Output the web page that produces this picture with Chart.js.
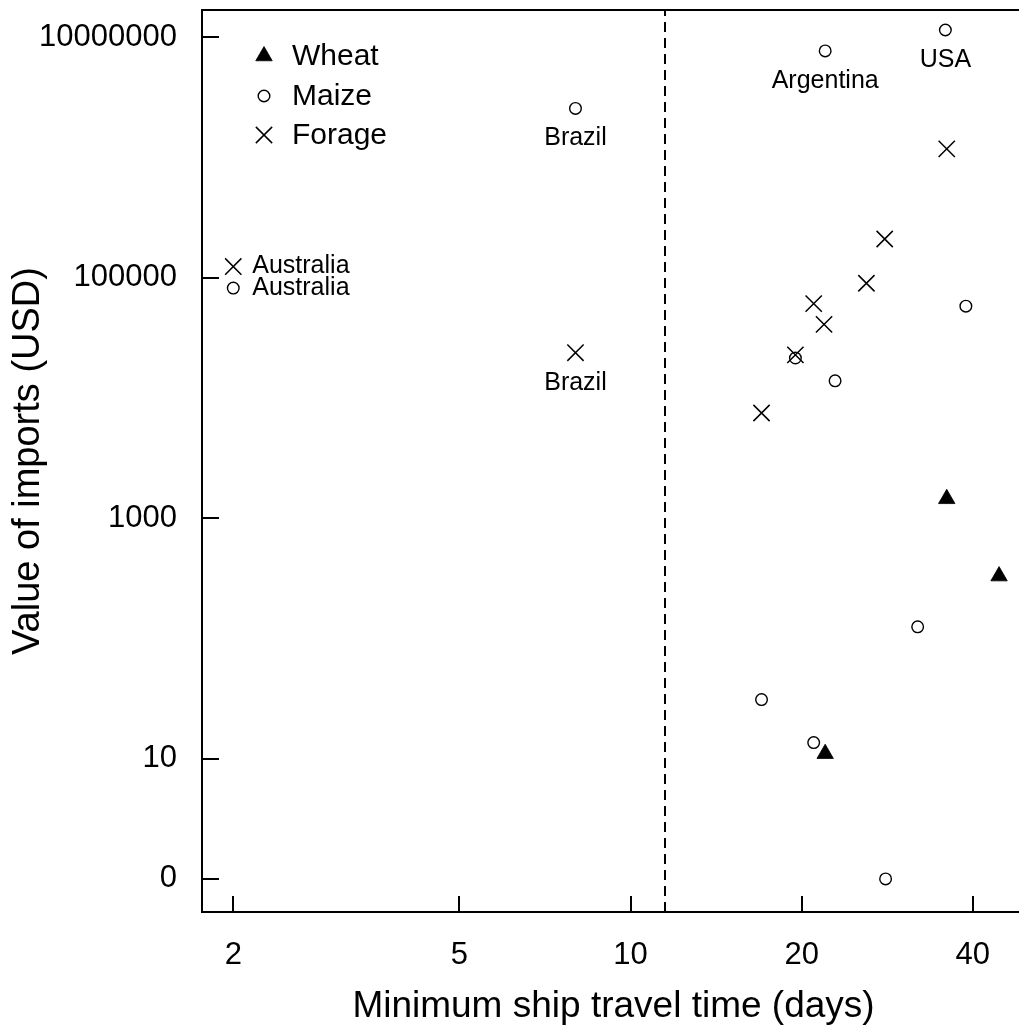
<!DOCTYPE html>
<html lang="en">
<head>
    <meta charset="UTF-8">
    <title>Value of imports vs ship travel time</title>
    <script src="https://cdn.jsdelivr.net/npm/chart.js@4"></script>
    <style>
        html, body { margin: 0; padding: 0; background: #fff; overflow: hidden; }
    </style>
</head>
<body>
    <canvas id="myChart" width="1031" height="1029"></canvas>
    <script>
        // minimum ship travel time (days) and value of imports (USD), one pair of arrays per crop
        const wheatDays = [36.0, 44.5, 22.0];
        const wheatValues = [1450, 330, 11];

        const maizeDays = [35.8, 22.0, 8.0, 2.0, 38.9, 19.5, 22.9, 32.0, 17.0, 21.0, 28.1];
        const maizeValues = [11500000, 7700000, 2560000, 82000, 58000, 21500, 13900, 125, 31, 13.6, 0];
        const maizeCountries = ['USA', 'Argentina', 'Brazil', 'Australia', '', '', '', '', '', '', ''];

        const forageDays = [36.0, 28.0, 26.0, 21.0, 21.9, 19.5, 17.0, 8.0, 2.0];
        const forageValues = [1180000, 210000, 90000, 61000, 41000, 22800, 7500, 23800, 124000];
        const forageCountries = ['', '', '', '', '', '', '', 'Brazil', 'Australia'];

        const xTicks = [2, 5, 10, 20, 40];
        const yTicks = [0, 10, 1000, 100000, 10000000];
        const cutoffDays = 11.5;

        const FONT = "Arial, 'Liberation Sans', sans-serif";
        Chart.defaults.font.family = FONT;
        Chart.defaults.color = '#000';

        // the y axis is logarithmic, a zero value sits where 1 would be
        const plotY = v => (v === 0 ? 1 : v);
        const toPoints = (days, values) => days.map((d, i) => ({ x: d, y: plotY(values[i]) }));

        const labelRight = new Set(['Australia']);

        const framePlugin = {
            id: 'frame',
            afterDraw(chart) {
                const { ctx, chartArea: a, scales: { x, y } } = chart;
                ctx.save();
                ctx.strokeStyle = '#000';
                ctx.lineWidth = 2;
                ctx.strokeRect(a.left, a.top, a.right - a.left, a.bottom - a.top);

                // tick marks point into the plot
                ctx.beginPath();
                xTicks.forEach(t => {
                    const px = Math.round(x.getPixelForValue(t));
                    ctx.moveTo(px, a.bottom);
                    ctx.lineTo(px, a.bottom - 16);
                });
                yTicks.forEach(t => {
                    const py = Math.round(y.getPixelForValue(plotY(t)));
                    ctx.moveTo(a.left, py);
                    ctx.lineTo(a.left + 17, py);
                });
                ctx.stroke();

                // dashed cut-off line
                const cx = Math.round(x.getPixelForValue(cutoffDays));
                ctx.setLineDash([10, 6]);
                ctx.beginPath();
                ctx.moveTo(cx, a.bottom);
                ctx.lineTo(cx, a.top);
                ctx.stroke();
                ctx.setLineDash([]);

                // country names next to their points
                ctx.fillStyle = '#000';
                ctx.font = '25px ' + FONT;
                ctx.textBaseline = 'middle';
                chart.data.datasets.forEach((ds, i) => {
                    if (!ds.countries) return;
                    const meta = chart.getDatasetMeta(i);
                    ds.countries.forEach((name, j) => {
                        if (!name) return;
                        const el = meta.data[j];
                        if (labelRight.has(name)) {
                            ctx.textAlign = 'left';
                            ctx.fillText(name, el.x + 19, el.y);
                        } else {
                            ctx.textAlign = 'center';
                            ctx.fillText(name, el.x, el.y + 30);
                        }
                    });
                });

                // legend, top left, no box
                const rows = [57, 97, 136];
                chart.data.datasets.forEach((ds, i) => {
                    const ry = rows[i];
                    ctx.fillStyle = ds.pointBackgroundColor;
                    ctx.strokeStyle = ds.pointBorderColor;
                    ctx.lineWidth = ds.pointBorderWidth;
                    Chart.helpers.drawPoint(ctx, {
                        pointStyle: ds.pointStyle,
                        radius: ds.pointRadius,
                        rotation: 0,
                        borderWidth: ds.pointBorderWidth
                    }, 264, ry - 1);
                    ctx.fillStyle = '#000';
                    ctx.font = '30px ' + FONT;
                    ctx.textAlign = 'left';
                    ctx.fillText(ds.label, 292, ry);
                });
                ctx.restore();
            }
        };

        new Chart(document.getElementById('myChart'), {
            type: 'scatter',
            data: {
                datasets: [
                    {
                        label: 'Wheat',
                        data: toPoints(wheatDays, wheatValues),
                        pointStyle: 'triangle',
                        pointRadius: 9.5,
                        pointBackgroundColor: '#000',
                        pointBorderColor: '#000',
                        pointBorderWidth: 0.8
                    },
                    {
                        label: 'Maize',
                        data: toPoints(maizeDays, maizeValues),
                        countries: maizeCountries,
                        pointStyle: 'circle',
                        pointRadius: 5.8,
                        pointBackgroundColor: 'rgba(0,0,0,0)',
                        pointBorderColor: '#000',
                        pointBorderWidth: 1.4
                    },
                    {
                        label: 'Forage',
                        data: toPoints(forageDays, forageValues),
                        countries: forageCountries,
                        pointStyle: 'crossRot',
                        pointRadius: 11.5,
                        pointBackgroundColor: 'rgba(0,0,0,0)',
                        pointBorderColor: '#000',
                        pointBorderWidth: 1.5
                    }
                ]
            },
            options: {
                responsive: false,
                animation: false,
                events: [],
                layout: { autoPadding: false, padding: { top: 10, right: 6, bottom: 0, left: 0 } },
                plugins: { legend: { display: false }, tooltip: { enabled: false } },
                scales: {
                    x: {
                        type: 'logarithmic',
                        bounds: 'data',
                        min: 1.762,
                        max: 49.43,
                        afterBuildTicks: s => { s.ticks = xTicks.map(v => ({ value: v })); },
                        afterFit: s => {
                            s.height = 117;
                            s.paddingLeft = 0;
                            s.paddingRight = 0;
                        },
                        grid: { display: false },
                        border: { display: false },
                        ticks: {
                            autoSkip: false,
                            maxRotation: 0,
                            padding: 17,
                            font: { size: 31 },
                            callback: v => String(v)
                        },
                        title: {
                            display: true,
                            text: 'Minimum ship travel time (days)',
                            font: { size: 37 },
                            padding: { top: 0, bottom: 0 }
                        }
                    },
                    y: {
                        type: 'logarithmic',
                        bounds: 'data',
                        min: 0.5305,
                        max: 16870000,
                        afterBuildTicks: s => { s.ticks = yTicks.map(v => ({ value: plotY(v) })); },
                        afterFit: s => {
                            s.width = 202;
                            s.paddingTop = 0;
                            s.paddingBottom = 0;
                        },
                        grid: { display: false },
                        border: { display: false },
                        ticks: {
                            autoSkip: false,
                            padding: 17,
                            font: { size: 31 },
                            callback: (v, i) => String(yTicks[i])
                        },
                        title: {
                            display: true,
                            text: 'Value of imports (USD)',
                            font: { size: 38 },
                            padding: { top: 6, bottom: 0 }
                        }
                    }
                }
            },
            plugins: [framePlugin]
        });
    </script>
</body>
</html>
